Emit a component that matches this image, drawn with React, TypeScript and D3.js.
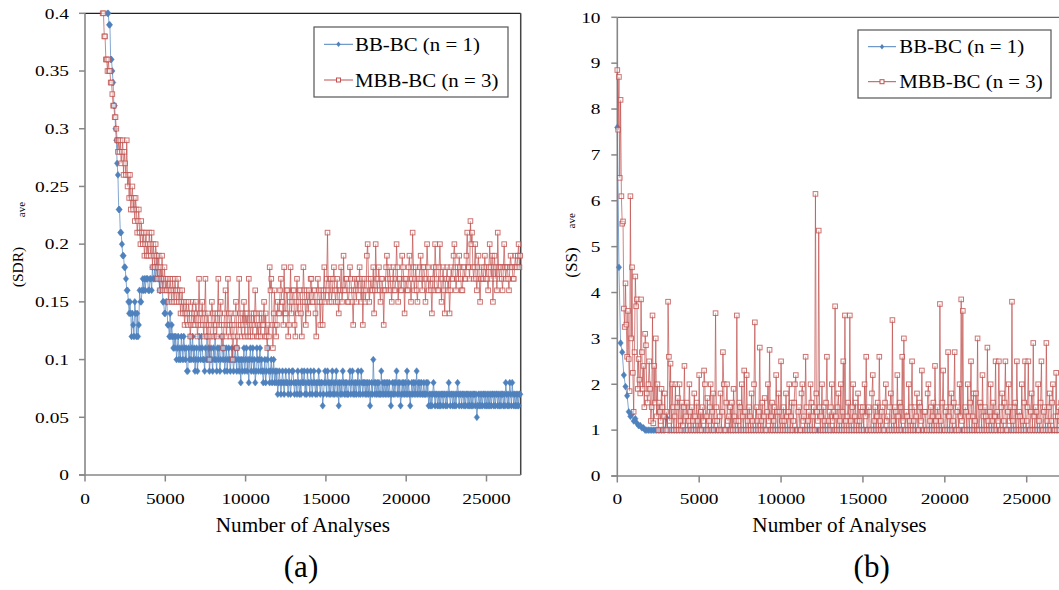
import React from 'react';
import * as d3 from 'd3';

// ---------- DATA ----------
const seriesNames = ['BB-BC (n = 1)', 'MBB-BC (n = 3)'];
const xTicks = [0, 5000, 10000, 15000, 20000, 25000];
const xTickLabels = ['0', '5000', '10000', '15000', '20000', '25000'];
const sdrTicks = [0, 0.05, 0.1, 0.15, 0.2, 0.25, 0.3, 0.35, 0.4];
const sdrTickLabels = ['0', '0.05', '0.1', '0.15', '0.2', '0.25', '0.3', '0.35', '0.4'];
const ssTicks = [0, 1, 2, 3, 4, 5, 6, 7, 8, 9, 10];
const ssTickLabels = ['0', '1', '2', '3', '4', '5', '6', '7', '8', '9', '10'];

// sampling of the number of analyses (first value, spacing)
const SDR_BB_START = 1400;
const SDR_MBB_START = 1100;
const SDR_STEP = 50;
const SS_BB_START = 0;
const SS_BB_STEP = 100;
const SS_MBB_START = 0;
const SS_MBB_STEP = 50;

// (a) (SDR)ave, BB-BC (n = 1) — one row per 1000 analyses
const sdrBB = [
  0.40, 0.40, 0.39, 0.39, 0.36, 0.36, 0.35, 0.34, 0.32, 0.32, 0.30, 0.29, 0.27, 0.26, 0.23, 0.23, 0.21, 0.21, 0.20, 0.19,
  0.19, 0.18, 0.18, 0.17, 0.16, 0.16, 0.15, 0.14, 0.15, 0.14, 0.12, 0.14, 0.13, 0.12, 0.15, 0.14, 0.12, 0.14, 0.12, 0.13,
  0.16, 0.15, 0.15, 0.16, 0.17, 0.16, 0.17, 0.16, 0.17, 0.17, 0.17, 0.16, 0.16, 0.17, 0.17, 0.16, 0.18, 0.17, 0.17, 0.18,
  0.17, 0.18, 0.19, 0.17, 0.17, 0.16, 0.16, 0.17, 0.17, 0.15, 0.15, 0.14, 0.14, 0.15, 0.15, 0.13, 0.13, 0.12, 0.14, 0.12,
  0.13, 0.12, 0.11, 0.12, 0.11, 0.12, 0.10, 0.11, 0.12, 0.10, 0.11, 0.10, 0.12, 0.11, 0.10, 0.12, 0.11, 0.10, 0.11, 0.09,
  0.09, 0.11, 0.10, 0.12, 0.10, 0.11, 0.12, 0.10, 0.11, 0.09, 0.10, 0.11, 0.09, 0.10, 0.12, 0.11, 0.10, 0.12, 0.11, 0.10,
  0.10, 0.09, 0.11, 0.10, 0.12, 0.10, 0.11, 0.09, 0.10, 0.11, 0.10, 0.09, 0.11, 0.10, 0.12, 0.10, 0.09, 0.11, 0.10, 0.11,
  0.09, 0.10, 0.12, 0.11, 0.10, 0.11, 0.09, 0.10, 0.11, 0.09, 0.10, 0.11, 0.10, 0.09, 0.10, 0.11, 0.10, 0.09, 0.10, 0.11,
  0.10, 0.09, 0.11, 0.10, 0.09, 0.10, 0.08, 0.10, 0.09, 0.10, 0.11, 0.09, 0.10, 0.11, 0.09, 0.10, 0.08, 0.10, 0.11, 0.09,
  0.10, 0.11, 0.09, 0.10, 0.08, 0.09, 0.11, 0.10, 0.09, 0.10, 0.11, 0.09, 0.10, 0.09, 0.08, 0.09, 0.10, 0.08, 0.09, 0.10,
  0.11, 0.09, 0.08, 0.09, 0.10, 0.08, 0.09, 0.10, 0.08, 0.09, 0.08, 0.09, 0.07, 0.08, 0.09, 0.08, 0.07, 0.08, 0.09, 0.08,
  0.07, 0.08, 0.09, 0.08, 0.08, 0.07, 0.09, 0.08, 0.07, 0.08, 0.09, 0.09, 0.08, 0.07, 0.08, 0.08, 0.07, 0.09, 0.08, 0.07,
  0.08, 0.07, 0.09, 0.08, 0.08, 0.09, 0.07, 0.08, 0.07, 0.09, 0.08, 0.08, 0.07, 0.09, 0.08, 0.07, 0.08, 0.09, 0.08, 0.07,
  0.08, 0.07, 0.08, 0.09, 0.08, 0.07, 0.08, 0.08, 0.06, 0.07, 0.08, 0.09, 0.08, 0.07, 0.09, 0.08, 0.07, 0.08, 0.07, 0.08,
  0.09, 0.07, 0.08, 0.07, 0.08, 0.09, 0.07, 0.08, 0.06, 0.08, 0.07, 0.08, 0.07, 0.09, 0.08, 0.07, 0.08, 0.07, 0.08, 0.07,
  0.07, 0.08, 0.09, 0.07, 0.08, 0.09, 0.07, 0.08, 0.07, 0.08, 0.07, 0.08, 0.09, 0.07, 0.08, 0.07, 0.09, 0.08, 0.07, 0.08,
  0.08, 0.07, 0.08, 0.07, 0.08, 0.07, 0.08, 0.06, 0.07, 0.08, 0.07, 0.10, 0.08, 0.07, 0.08, 0.07, 0.08, 0.07, 0.08, 0.07,
  0.07, 0.09, 0.07, 0.08, 0.07, 0.08, 0.07, 0.08, 0.07, 0.08, 0.07, 0.08, 0.07, 0.06, 0.07, 0.08, 0.07, 0.08, 0.07, 0.08,
  0.09, 0.07, 0.08, 0.07, 0.08, 0.06, 0.07, 0.08, 0.07, 0.08, 0.07, 0.08, 0.07, 0.09, 0.07, 0.08, 0.07, 0.06, 0.07, 0.08,
  0.07, 0.08, 0.07, 0.08, 0.07, 0.09, 0.07, 0.08, 0.07, 0.08, 0.07, 0.08, 0.07, 0.07, 0.08, 0.07, 0.07, 0.08, 0.07, 0.08,
  0.06, 0.07, 0.06, 0.07, 0.06, 0.07, 0.08, 0.07, 0.06, 0.07, 0.07, 0.06, 0.07, 0.06, 0.07, 0.06, 0.07, 0.07, 0.06, 0.07,
  0.07, 0.06, 0.07, 0.06, 0.07, 0.08, 0.07, 0.06, 0.07, 0.07, 0.06, 0.07, 0.06, 0.07, 0.06, 0.07, 0.08, 0.07, 0.06, 0.07,
  0.07, 0.06, 0.07, 0.07, 0.06, 0.07, 0.06, 0.07, 0.07, 0.06, 0.07, 0.06, 0.07, 0.06, 0.07, 0.06, 0.07, 0.07, 0.06, 0.07,
  0.05, 0.06, 0.07, 0.06, 0.07, 0.06, 0.07, 0.06, 0.07, 0.07, 0.06, 0.07, 0.06, 0.07, 0.06, 0.07, 0.06, 0.07, 0.06, 0.07,
  0.07, 0.06, 0.07, 0.06, 0.07, 0.07, 0.06, 0.07, 0.06, 0.07, 0.06, 0.07, 0.07, 0.06, 0.07, 0.06, 0.08, 0.07, 0.06, 0.07,
  0.06, 0.08, 0.07, 0.06, 0.08, 0.07, 0.06, 0.07, 0.06, 0.07, 0.06, 0.07, 0.06, 0.07, 0.07,
];

// (a) (SDR)ave, MBB-BC (n = 3)
const sdrMBB = [
  0.40, 0.40, 0.38, 0.38, 0.36, 0.36, 0.35, 0.36, 0.35, 0.35, 0.34, 0.34, 0.33, 0.32, 0.32, 0.31, 0.31, 0.30, 0.29, 0.28,
  0.29, 0.28, 0.29, 0.27, 0.28, 0.29, 0.26, 0.28, 0.27, 0.26, 0.29, 0.25, 0.26, 0.24, 0.26, 0.23, 0.24, 0.25, 0.23, 0.24,
  0.22, 0.24, 0.23, 0.21, 0.22, 0.23, 0.21, 0.20, 0.22, 0.21, 0.20, 0.21, 0.19, 0.20, 0.21, 0.19, 0.20, 0.19, 0.21, 0.20,
  0.19, 0.21, 0.18, 0.20, 0.19, 0.18, 0.20, 0.19, 0.17, 0.18, 0.19, 0.16, 0.18, 0.17, 0.19, 0.16, 0.17, 0.18, 0.16, 0.17,
  0.16, 0.17, 0.15, 0.16, 0.17, 0.16, 0.15, 0.17, 0.16, 0.15, 0.17, 0.16, 0.15, 0.16, 0.17, 0.15, 0.16, 0.14, 0.15, 0.16,
  0.14, 0.15, 0.13, 0.14, 0.15, 0.14, 0.13, 0.15, 0.14, 0.12, 0.13, 0.14, 0.15, 0.13, 0.14, 0.13, 0.15, 0.14, 0.12, 0.13,
  0.17, 0.14, 0.13, 0.14, 0.15, 0.13, 0.12, 0.14, 0.17, 0.13, 0.12, 0.14, 0.13, 0.10, 0.12, 0.13, 0.15, 0.14, 0.12, 0.13,
  0.14, 0.13, 0.12, 0.14, 0.17, 0.13, 0.14, 0.15, 0.13, 0.12, 0.11, 0.13, 0.14, 0.16, 0.12, 0.13, 0.17, 0.14, 0.13, 0.12,
  0.14, 0.13, 0.10, 0.12, 0.13, 0.14, 0.15, 0.11, 0.12, 0.13, 0.17, 0.14, 0.13, 0.12, 0.14, 0.13, 0.15, 0.12, 0.14, 0.13,
  0.14, 0.12, 0.17, 0.13, 0.12, 0.14, 0.13, 0.12, 0.14, 0.13, 0.16, 0.14, 0.12, 0.13, 0.12, 0.14, 0.13, 0.12, 0.14, 0.13,
  0.13, 0.15, 0.12, 0.14, 0.12, 0.11, 0.13, 0.12, 0.18, 0.16, 0.17, 0.13, 0.11, 0.14, 0.16, 0.13, 0.12, 0.13, 0.15, 0.14,
  0.14, 0.16, 0.17, 0.15, 0.15, 0.13, 0.18, 0.14, 0.14, 0.16, 0.16, 0.12, 0.13, 0.15, 0.18, 0.14, 0.15, 0.16, 0.16, 0.13,
  0.12, 0.15, 0.17, 0.14, 0.15, 0.16, 0.16, 0.14, 0.12, 0.15, 0.18, 0.16, 0.15, 0.13, 0.16, 0.15, 0.14, 0.16, 0.15, 0.17,
  0.17, 0.15, 0.15, 0.16, 0.16, 0.14, 0.12, 0.15, 0.17, 0.16, 0.15, 0.13, 0.16, 0.15, 0.13, 0.16, 0.18, 0.15, 0.16, 0.17,
  0.21, 0.16, 0.15, 0.17, 0.17, 0.15, 0.16, 0.17, 0.18, 0.16, 0.15, 0.16, 0.17, 0.15, 0.14, 0.16, 0.16, 0.18, 0.15, 0.16,
  0.19, 0.16, 0.16, 0.17, 0.17, 0.15, 0.15, 0.16, 0.18, 0.17, 0.16, 0.15, 0.13, 0.16, 0.17, 0.16, 0.15, 0.17, 0.16, 0.17,
  0.18, 0.16, 0.15, 0.17, 0.13, 0.16, 0.17, 0.15, 0.16, 0.19, 0.20, 0.17, 0.15, 0.16, 0.17, 0.16, 0.16, 0.18, 0.14, 0.16,
  0.20, 0.17, 0.16, 0.17, 0.18, 0.16, 0.15, 0.17, 0.17, 0.16, 0.13, 0.16, 0.16, 0.18, 0.19, 0.17, 0.16, 0.18, 0.17, 0.16,
  0.15, 0.17, 0.18, 0.16, 0.16, 0.17, 0.20, 0.18, 0.15, 0.17, 0.17, 0.16, 0.16, 0.19, 0.18, 0.17, 0.14, 0.17, 0.17, 0.16,
  0.16, 0.18, 0.19, 0.17, 0.15, 0.17, 0.21, 0.18, 0.16, 0.17, 0.18, 0.16, 0.15, 0.17, 0.17, 0.18, 0.19, 0.17, 0.16, 0.18,
  0.18, 0.17, 0.15, 0.17, 0.20, 0.18, 0.16, 0.17, 0.17, 0.16, 0.14, 0.17, 0.18, 0.16, 0.20, 0.18, 0.17, 0.16, 0.16, 0.18,
  0.20, 0.17, 0.15, 0.17, 0.18, 0.16, 0.14, 0.17, 0.17, 0.18, 0.16, 0.17, 0.14, 0.16, 0.18, 0.17, 0.17, 0.19, 0.20, 0.18,
  0.16, 0.17, 0.18, 0.17, 0.19, 0.18, 0.17, 0.16, 0.16, 0.18, 0.18, 0.17, 0.17, 0.19, 0.21, 0.18, 0.18, 0.17, 0.22, 0.20,
  0.21, 0.18, 0.17, 0.18, 0.20, 0.17, 0.16, 0.18, 0.19, 0.17, 0.15, 0.17, 0.18, 0.17, 0.17, 0.18, 0.19, 0.17, 0.18, 0.17,
  0.16, 0.18, 0.20, 0.18, 0.17, 0.19, 0.15, 0.18, 0.19, 0.17, 0.18, 0.16, 0.21, 0.18, 0.17, 0.18, 0.18, 0.17, 0.16, 0.18,
  0.20, 0.18, 0.17, 0.18, 0.18, 0.17, 0.16, 0.18, 0.19, 0.18, 0.18, 0.17, 0.17, 0.18, 0.19, 0.18, 0.18, 0.19, 0.20, 0.18,
  0.19,
];

// (b) (SS)ave, BB-BC (n = 1) — one row per 1000 analyses
const ssBB = [
  7.6, 4.55, 2.9, 2.7, 2.2, 1.95, 1.75, 1.4, 1.3, 1.35,
  1.2, 1.25, 1.15, 1.1, 1.1, 1.05, 1.05, 1, 1, 1,
  1, 1, 1, 1, 1, 1, 1, 1, 1, 1,
  1.27, 1, 1, 1, 1, 1, 1, 1, 1, 1,
  1, 1, 1, 1, 1, 1, 1, 1, 1, 1,
  1, 1, 1, 1, 1, 1, 1, 1, 1, 1,
  1, 1, 1, 1, 1, 1, 1, 1, 1, 1,
  1, 1, 1, 1, 1, 1, 1, 1, 1, 1,
  1, 1, 1, 1, 1, 1, 1, 1, 1, 1,
  1, 1, 1, 1, 1, 1, 1, 1, 1, 1,
  1, 1, 1, 1, 1, 1, 1, 1, 1, 1,
  1, 1, 1, 1, 1, 1, 1, 1, 1, 1,
  1, 1, 1, 1, 1, 1, 1, 1, 1, 1,
  1, 1, 1, 1, 1, 1, 1, 1, 1, 1,
  1, 1, 1, 1, 1, 1, 1, 1, 1, 1,
  1, 1, 1, 1, 1, 1, 1, 1, 1, 1,
  1, 1, 1, 1, 1, 1, 1, 1, 1, 1,
  1, 1, 1, 1, 1, 1, 1, 1, 1, 1,
  1, 1, 1, 1, 1, 1, 1, 1, 1, 1,
  1, 1, 1, 1, 1, 1, 1, 1, 1, 1,
  1, 1, 1, 1, 1, 1, 1, 1, 1, 1,
  1, 1, 1, 1, 1, 1, 1, 1, 1, 1,
  1, 1, 1, 1, 1, 1, 1, 1, 1, 1,
  1, 1, 1, 1, 1, 1, 1, 1, 1, 1,
  1, 1, 1, 1, 1, 1, 1, 1, 1, 1,
  1, 1, 1, 1, 1, 1, 1, 1, 1, 1,
  1, 1, 1, 1, 1, 1, 1, 1, 1, 1,
  1, 1, 1,
];

// (b) (SS)ave, MBB-BC (n = 3) — one row per 1000 analyses
const ssMBB = [
  8.85, 7.55, 8.7, 6.5, 8.2, 6.1, 5.5, 5.55, 3.65, 3.25, 4.2, 3.3, 2.6, 3.6, 2.55, 1.85, 6.1, 3.0, 4.55, 2.25,
  1.4, 2.7, 4.35, 3.7, 3.85, 1.9, 2.55, 2.1, 1.8, 3.85, 2.7, 1.9, 2.4, 1.5, 3.1, 2.85, 1.8, 1.6, 2.0, 2.5,
  1.9, 1.2, 1.5, 3.5, 1.15, 2.4, 1.6, 3.0, 1.3, 2.0, 1.0, 1.6, 1.4, 1.2, 1.9, 1.5, 1.0, 1.3, 1.8, 1.0,
  1.4, 1.0, 3.8, 2.6, 1.2, 2.45, 1.0, 2.0, 1.5, 1.0, 1.3, 2.0, 1.0, 1.5, 1.7, 1.0, 2.0, 1.2, 1.0, 1.6,
  1.1, 1.5, 2.4, 1.0, 1.3, 1.6, 1.0, 1.2, 2.0, 1.4, 1.0, 1.5, 1.2, 1.0, 1.8, 1.3, 1.0, 1.6, 1.2, 1.0,
  2.2, 1.0, 1.4, 1.0, 1.5, 1.2, 2.3, 2.0, 1.0, 1.3, 1.7, 1.0, 1.2, 1.5, 2.0, 1.0, 1.4, 1.8, 1.0, 1.2,
  3.55, 1.5, 1.2, 1.0, 1.0, 1.3, 1.8, 1.0, 1.4, 2.7, 2.0, 1.0, 1.0, 1.6, 2.0, 1.2, 1.3, 1.0, 1.5, 1.0,
  1.6, 1.0, 1.9, 1.3, 1.0, 1.2, 3.5, 1.0, 1.2, 1.6, 1.5, 1.0, 2.0, 1.3, 1.0, 2.3, 1.4, 1.0, 2.2, 1.2,
  1.0, 1.5, 1.3, 1.0, 1.8, 1.2, 1.0, 2.0, 3.35, 1.0, 1.5, 1.2, 1.0, 1.4, 2.8, 1.0, 1.2, 1.6, 1.0, 1.3,
  1.7, 1.0, 1.0, 1.4, 2.0, 1.2, 2.75, 1.0, 1.3, 1.6, 1.0, 1.2, 1.5, 1.0, 2.2, 1.4, 1.0, 1.8, 1.4, 1.0,
  2.5, 1.2, 1.0, 1.5, 1.2, 1.0, 1.8, 1.3, 1.0, 1.4, 2.0, 1.0, 1.3, 1.6, 1.0, 1.2, 1.6, 2.0, 2.2, 1.0,
  1.0, 1.4, 1.5, 1.0, 1.0, 1.8, 2.0, 1.2, 1.3, 1.0, 2.6, 1.5, 1.0, 1.2, 1.4, 1.0, 2.0, 1.6, 1.0, 1.3,
  1.5, 1.0, 6.15, 1.8, 1.4, 1.2, 5.35, 1.5, 1.0, 1.3, 2.0, 1.0, 1.5, 1.2, 1.0, 1.6, 2.6, 1.0, 1.2, 1.4,
  1.0, 1.5, 2.0, 1.2, 1.4, 1.0, 3.7, 1.3, 1.0, 1.5, 1.8, 1.0, 1.2, 2.0, 1.0, 1.4, 2.5, 1.0, 3.5, 1.2,
  1.0, 1.3, 1.6, 1.0, 3.5, 1.2, 1.0, 1.5, 2.0, 1.0, 1.3, 1.6, 1.0, 1.2, 1.8, 1.0, 1.2, 1.5, 1.0, 1.4,
  1.5, 1.0, 2.0, 1.3, 2.6, 1.0, 1.0, 1.5, 1.4, 1.0, 1.0, 1.8, 2.2, 1.0, 1.2, 1.5, 1.0, 1.3, 1.6, 1.0,
  2.6, 1.2, 1.0, 1.4, 1.5, 1.0, 1.0, 1.6, 2.0, 1.2, 1.3, 1.0, 1.0, 1.5, 1.8, 1.0, 3.4, 1.2, 1.0, 1.5,
  1.4, 1.0, 2.2, 1.3, 1.0, 1.6, 1.5, 1.0, 2.6, 1.2, 3.0, 1.0, 1.0, 1.4, 1.3, 1.0, 2.0, 1.2, 1.0, 1.5,
  2.5, 1.0, 1.2, 1.5, 1.0, 1.3, 1.8, 1.0, 1.0, 1.6, 1.5, 1.2, 2.3, 1.0, 1.0, 1.4, 1.4, 1.0, 1.0, 1.8,
  2.0, 1.0, 1.2, 1.5, 1.0, 1.3, 1.6, 1.0, 2.4, 1.2, 1.0, 1.5, 1.3, 1.0, 3.75, 1.2, 1.0, 1.6, 2.3, 1.0,
  1.0, 1.4, 1.5, 1.0, 2.7, 1.3, 1.0, 1.5, 1.8, 1.0, 1.2, 1.6, 2.7, 1.0, 1.0, 1.4, 1.5, 1.0, 2.0, 1.3,
  3.85, 1.2, 3.6, 1.0, 1.0, 1.5, 1.4, 1.0, 2.0, 1.3, 1.0, 1.6, 2.5, 1.0, 1.3, 1.8, 1.0, 1.2, 1.8, 1.0,
  3.0, 1.0, 1.0, 1.6, 1.5, 1.0, 2.2, 1.3, 1.0, 1.5, 1.3, 1.0, 2.8, 1.2, 1.0, 1.4, 2.0, 1.0, 1.2, 1.6,
  1.0, 1.3, 2.5, 1.0, 1.4, 1.2, 2.5, 1.0, 1.0, 1.5, 1.8, 1.0, 1.2, 1.6, 2.5, 1.0, 1.0, 1.4, 2.0, 1.2,
  1.5, 1.0, 3.8, 1.2, 1.0, 1.5, 1.6, 1.0, 2.5, 1.3, 1.0, 1.4, 1.3, 1.0, 2.0, 1.2, 1.0, 1.6, 2.5, 1.0,
  1.2, 1.5, 2.5, 1.0, 1.0, 1.4, 1.8, 1.0, 2.9, 1.3, 1.0, 1.5, 1.4, 1.0, 2.0, 1.2, 1.0, 1.6, 2.5, 1.0,
  1.0, 1.4, 1.5, 1.0, 2.9, 1.2, 1.0, 1.5, 1.8, 1.0, 1.2, 1.6, 2.0, 1.0, 1.0, 1.3, 2.25, 1.0, 1.3, 1.5,
  1.0, 1.2, 1.6, 1.0, 1.0,
];

// ---------- STYLE ----------
const FONT = '"Liberation Serif", "Times New Roman", Times, serif';
const BLUE = '#4F81BD';
const RED = '#C0504D';
const AXIS = '#878787';
const DIAMOND = 'M0,-3.4L2.7,0L0,3.4L-2.7,0Z';
const SQ = 4.6;

type TProps = { x: number; y: number; s?: number; anchor?: string; size: number; children: React.ReactNode };
function T({ x, y, s = 1, anchor = 'start', size, children }: TProps) {
  return (
    <text transform={`translate(${x},${y}) scale(${s},1)`} textAnchor={anchor} fontSize={size} fontFamily={FONT} fill="#000">
      {children}
    </text>
  );
}

type Series = { values: number[]; start: number; step: number; color: string; kind: 'diamond' | 'square' };

type PanelCfg = {
  x0: number; x25k: number; xMax: number;
  yTop: number; yBot: number; yMax: number;
  yTicks: number[]; yLabels: string[]; labelRight: number;
  series: Series[];
  legend: { x: number; y: number; w: number; h: number; lx1: number; lx2: number; tx: number; ly: number[]; base: number[] };
  yTitle: { main: string; sub: string; xMain: number; yMain: number; xSub: number; ySub: number; size: number };
  caption: { text: string; x: number };
  topColor: string;
};

function Panel({ c }: { c: PanelCfg }) {
  const x = d3.scaleLinear().domain([0, 25000]).range([c.x0, c.x25k]);
  const y = d3.scaleLinear().domain([0, c.yMax]).range([c.yBot, c.yTop]);
  const xRight = x(c.xMax);
  const xMid = (c.x0 + xRight) / 2;
  const yt = c.yTitle;
  return (
    <g>
      <line x1={c.x0} x2={xRight} y1={c.yTop} y2={c.yTop} stroke={c.topColor} strokeWidth={1.3} />
      <line x1={xRight} x2={xRight} y1={c.yTop} y2={c.yBot} stroke="#444" strokeWidth={1.5} />
      <line x1={c.x0} x2={c.x0} y1={c.yTop} y2={c.yBot} stroke={AXIS} strokeWidth={1.6} />
      <line x1={c.x0 - 6} x2={xRight} y1={c.yBot} y2={c.yBot} stroke={AXIS} strokeWidth={1.6} />
      {c.yTicks.map((t, i) => (
        <g key={'y' + i}>
          <line x1={c.x0 - 6} x2={c.x0} y1={y(t)} y2={y(t)} stroke={AXIS} strokeWidth={1.5} />
          <T x={c.labelRight} y={y(t) + 5.3} s={1.25} anchor="end" size={15.5}>{c.yLabels[i]}</T>
        </g>
      ))}
      {xTicks.map((t, i) => (
        <g key={'x' + i}>
          <line x1={x(t)} x2={x(t)} y1={c.yBot} y2={c.yBot + 6.5} stroke={AXIS} strokeWidth={1.5} />
          <T x={x(t)} y={504} s={1.25} anchor="middle" size={15.5}>{xTickLabels[i]}</T>
        </g>
      ))}
      {c.series.map((s, si) => {
        const px = (i: number) => x(s.start + i * s.step);
        const line = d3.line<number>().x((_, i) => px(i)).y((d) => y(d));
        return (
          <g key={'s' + si}>
            <path d={line(s.values) || ''} fill="none" stroke={s.color} strokeWidth={1} strokeOpacity={0.7} />
            {s.values.map((v, i) =>
              s.kind === 'diamond' ? (
                <path key={i} d={DIAMOND} transform={`translate(${px(i)},${y(v)})`} fill={s.color} stroke={s.color} strokeWidth={0.5} />
              ) : (
                <rect key={i} x={px(i) - SQ / 2} y={y(v) - SQ / 2} width={SQ} height={SQ} fill="#fff" fillOpacity={0.5} stroke={s.color} strokeWidth={1} strokeOpacity={0.8} />
              )
            )}
          </g>
        );
      })}
      <rect x={c.legend.x} y={c.legend.y} width={c.legend.w} height={c.legend.h} fill="#fff" stroke="#555" strokeWidth={1.2} />
      {c.series.map((s, si) => {
        const ly = c.legend.ly[si];
        const mx = (c.legend.lx1 + c.legend.lx2) / 2;
        return (
          <g key={'l' + si}>
            <line x1={c.legend.lx1} x2={c.legend.lx2} y1={ly} y2={ly} stroke={s.color} strokeWidth={1} />
            {s.kind === 'diamond' ? (
              <path d={DIAMOND} transform={`translate(${mx},${ly}) scale(0.8)`} fill={s.color} />
            ) : (
              <rect x={mx - 2} y={ly - 2} width={4} height={4} fill="#fff" stroke={s.color} strokeWidth={1} />
            )}
            <T x={c.legend.tx} y={c.legend.base[si]} s={1.16} size={18}>{seriesNames[si]}</T>
          </g>
        );
      })}
      <T x={xMid} y={531.7} s={1.06} anchor="middle" size={20}>Number of Analyses</T>
      <text x={yt.xMain} y={yt.yMain} transform={`rotate(-90 ${yt.xMain} ${yt.yMain})`} textAnchor="middle" fontSize={yt.size} fontFamily={FONT} fill="#000">{yt.main}</text>
      <text x={yt.xSub} y={yt.ySub} transform={`rotate(-90 ${yt.xSub} ${yt.ySub})`} textAnchor="middle" fontSize={11} fontFamily={FONT} fill="#000">{yt.sub}</text>
      <T x={c.caption.x} y={577} anchor="middle" size={31}>{c.caption.text}</T>
    </g>
  );
}

const leftCfg: PanelCfg = {
  x0: 85, x25k: 486.5, xMax: 27130,
  yTop: 13.3, yBot: 475, yMax: 0.4,
  yTicks: sdrTicks, yLabels: sdrTickLabels, labelRight: 69,
  series: [
    { values: sdrBB, start: SDR_BB_START, step: SDR_STEP, color: BLUE, kind: 'diamond' },
    { values: sdrMBB, start: SDR_MBB_START, step: SDR_STEP, color: RED, kind: 'square' },
  ],
  legend: { x: 314, y: 27, w: 194, h: 70, lx1: 324, lx2: 353, tx: 355, ly: [44.3, 80], base: [50.7, 86.7] },
  yTitle: { main: '(SDR)', sub: 'ave', xMain: 22.7, yMain: 267, xSub: 25, ySub: 209.5, size: 15.5 },
  caption: { text: '(a)', x: 301 },
  topColor: '#222',
};

const rightCfg: PanelCfg = {
  x0: 617.3, x25k: 1026.7, xMax: 27130,
  yTop: 17.3, yBot: 476, yMax: 10,
  yTicks: ssTicks, yLabels: ssTickLabels, labelRight: 600.5,
  series: [
    { values: ssBB, start: SS_BB_START, step: SS_BB_STEP, color: BLUE, kind: 'diamond' },
    { values: ssMBB, start: SS_MBB_START, step: SS_MBB_STEP, color: RED, kind: 'square' },
  ],
  legend: { x: 858, y: 30, w: 193, h: 68, lx1: 868, lx2: 896, tx: 899.3, ly: [46.7, 81.7], base: [53.3, 88.3] },
  yTitle: { main: '(SS)', sub: 'ave', xMain: 577, yMain: 262.5, xSub: 575.5, ySub: 220.8, size: 17 },
  caption: { text: '(b)', x: 871.7 },
  topColor: '#666',
};

export default function App() {
  return (
    <svg width={1059} height={590} viewBox="0 0 1059 590" style={{ position: 'absolute', left: 0, top: 0, background: '#fff' }}>
      <rect x={0} y={0} width={1059} height={590} fill="#fff" />
      <Panel c={leftCfg} />
      <Panel c={rightCfg} />
    </svg>
  );
}
